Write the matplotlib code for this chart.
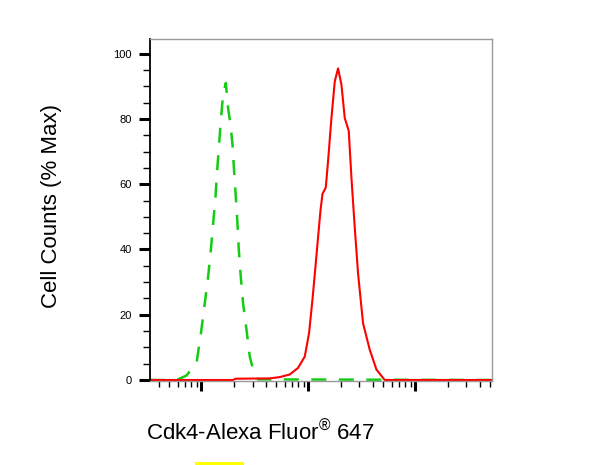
import matplotlib

matplotlib.use("Agg")
import matplotlib.pyplot as plt
from matplotlib.patches import Rectangle
from matplotlib.ticker import LogLocator, MultipleLocator, NullFormatter

# isotype control (green dashed) - fluorescence intensity vs % max
GREEN_X = [33, 58.3, 72.5, 89.8, 98.5, 107.4, 115.3, 122.2, 128.4, 135.1, 139.9, 145.2,
           151.4, 159.1, 168.8, 177.3, 186.7, 194.9, 201.8, 209.4, 217, 223.4, 233,
           244.8, 263.5, 282.7, 303.6, 338, 52000]
GREEN_Y = [0, 0, 1.4, 5.2, 14, 23.6, 31.6, 39.7, 47.8, 56, 64, 71,
           79.3, 87.4, 91, 83.3, 78.3, 72.2, 64, 56, 47.8, 39.7, 31.6,
           23.5, 15.4, 7.2, 3.2, 0.2, 0]

# Cdk4 stained sample (red solid)
RED_X = [33, 196, 209, 435, 540, 669, 799, 924, 1013, 1089, 1162, 1230, 1295, 1352,
         1452, 1525, 1640, 1762, 1892, 2034, 2184, 2381, 2522, 2708, 2910, 3238,
         3740, 4322, 5166, 52000]
RED_Y = [0, 0, 0.4, 0.5, 0.9, 1.7, 3.7, 7.2, 14.4, 24.5, 34.6, 43.8, 51.9, 57,
         59, 67.1, 80.3, 91.5, 95.5, 90.5, 80.3, 76.3, 62, 46.8, 32.6, 17.4,
         9.3, 3.2, 0, 0]

Y_TICKS = [0, 20, 40, 60, 80, 100]
X_LABEL = "Cdk4-Alexa Fluor$^{®}$ 647"
Y_LABEL = "Cell Counts (% Max)"


def main() -> int:
    plt.rcParams["font.family"] = ["Liberation Sans", "DejaVu Sans"]
    plt.rcParams["mathtext.fontset"] = "custom"
    plt.rcParams["mathtext.rm"] = "Liberation Sans"
    plt.rcParams["mathtext.default"] = "regular"

    fig = plt.figure(figsize=(6.05, 4.65), dpi=100)
    ax = fig.add_axes([150 / 605, 1 - 381 / 465, 342 / 605, 342 / 465])

    green, = ax.plot(GREEN_X, GREEN_Y, color="#14cc14", lw=1.8, clip_on=False)
    green.set_dashes((6, 5))
    ax.plot(RED_X, RED_Y, color="#ff0000", lw=1.5, clip_on=False)

    ax.set_xscale("log")
    ax.set_xlim(33, 52000)
    ax.set_ylim(-0.3, 104.5)

    ax.xaxis.set_major_locator(LogLocator(base=10, numticks=10))
    ax.xaxis.set_minor_locator(LogLocator(base=10, subs=range(2, 10), numticks=20))
    ax.xaxis.set_major_formatter(NullFormatter())
    ax.xaxis.set_minor_formatter(NullFormatter())

    ax.set_yticks(Y_TICKS)
    ax.set_yticklabels([str(v) for v in Y_TICKS])
    ax.yaxis.set_minor_locator(MultipleLocator(5))

    ax.tick_params(axis="both", which="major", direction="out", length=8, width=2.2,
                   color="black", labelsize=8, pad=5)
    ax.tick_params(axis="both", which="minor", direction="out", length=5, width=1,
                   color="black")
    ax.tick_params(axis="x", which="major", length=7)
    ax.tick_params(axis="x", which="minor", length=4)

    for side in ("top", "right", "bottom"):
        ax.spines[side].set_color("#999999")
        ax.spines[side].set_linewidth(1)
    ax.spines["left"].set_color("black")
    ax.spines["left"].set_linewidth(1.3)

    fig.text(52 / 605, 1 - 206 / 465, Y_LABEL, rotation=90, ha="center", va="center",
             fontsize=16)
    fig.text(146 / 605, 1 - 440 / 465, X_LABEL, ha="left", va="baseline", fontsize=16)

    fig.patches.append(Rectangle((195 / 605, 0), 49 / 605, 3 / 465, transform=fig.transFigure,
                                 facecolor="#ffff00", edgecolor="none"))

    fig.savefig("out.png", dpi=100)
    plt.close(fig)
    return 0


if __name__ == "__main__":
    raise SystemExit(main())
